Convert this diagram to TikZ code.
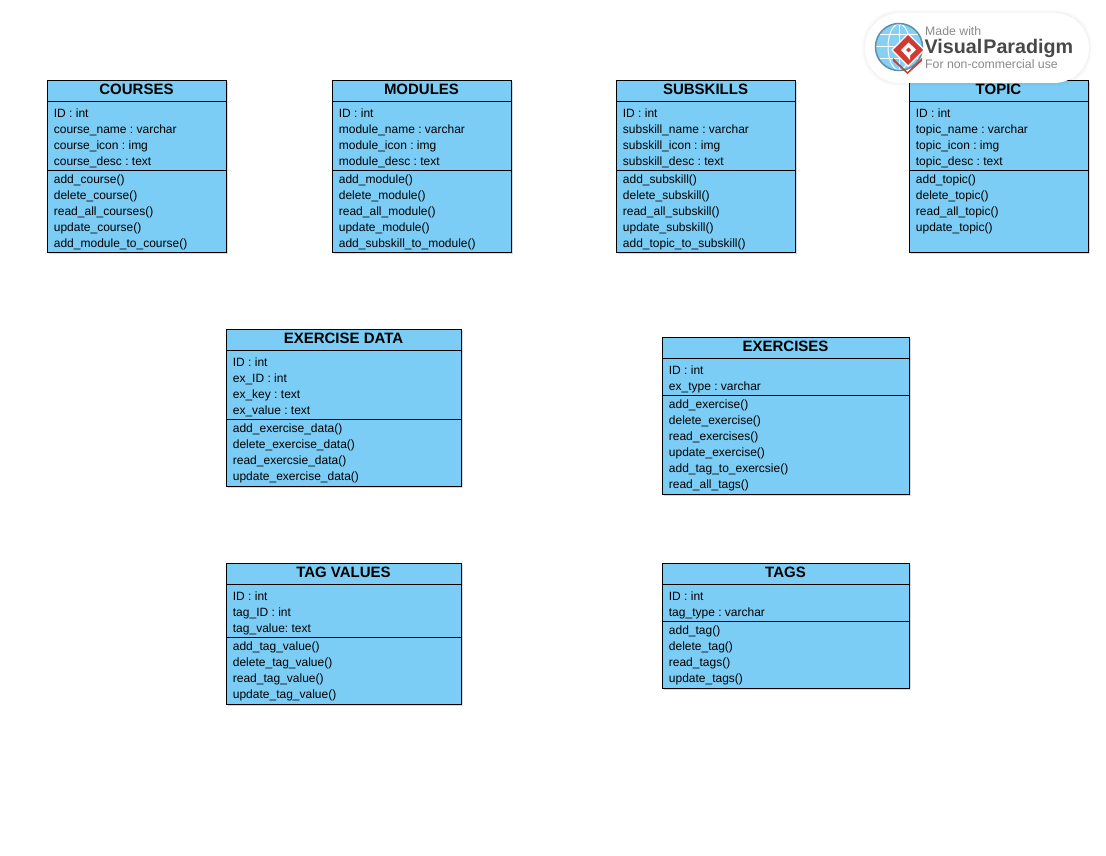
\documentclass[tikz,border=0pt]{standalone}
\usepackage{fontspec}
\setmainfont{Liberation Sans}
\usetikzlibrary{fit,shadows,calc}
\definecolor{umlfill}{HTML}{7BCDF6}
\definecolor{vpgray}{HTML}{8A8A8A}
\definecolor{vpdark}{HTML}{484848}
\definecolor{vpred}{HTML}{CF3A32}
\definecolor{vpblue}{HTML}{86D0F4}
\definecolor{vpring}{HTML}{5F8FA8}
\tikzset{
  classbox/.style={draw=black,line width=1pt,fill=umlfill,inner sep=0pt,outer sep=0pt,
    drop shadow={shadow xshift=1.5pt,shadow yshift=-1.5pt,opacity=.3,fill=gray}},
  classtitle/.style={font=\fontsize{15}{16}\selectfont\bfseries,inner sep=0pt,text=black},
  classtext/.style={font=\fontsize{12}{16}\selectfont\frenchspacing,align=left,anchor=north west,inner sep=0pt,text=black},
  classsep/.style={draw=black,line width=1pt},
  vpsmall/.style={font=\fontsize{12.3}{14}\selectfont,text=vpgray,inner sep=0pt,anchor=base west},
  vpbig/.style={font=\fontsize{19.7}{20}\selectfont\bfseries,text=vpdark,inner sep=0pt,anchor=base west},
}
\def\umlclass#1#2#3#4#5{%
  \def\umlattrs{#4}\def\umlops{#5}%
  \umlclassi{#1}{#3}#2\relax}
\def\umlclassi#1#2#3,#4,#5,#6,#7,#8\relax{%
  \coordinate (#1-a) at (#3,#4);
  \coordinate (#1-b) at (#5,#6);
  \node[classbox,fit=(#1-a)(#1-b)] (#1) {};
  \coordinate (#1-c) at (#3,#7);
  \coordinate (#1-d) at (#3,#8);
  \node[classtitle] (#1-title) at ($(#1.north)+(-0.5,8.6)$) {#2};
  \draw[classsep] (#1.west |- #1-c) -- (#1.east |- #1-c);
  \draw[classsep] (#1.west |- #1-d) -- (#1.east |- #1-d);
  \node[classtext] (#1-attrs) at ($(#1-c)+(6.2,4.5)$) {\umlattrs};
  \node[classtext] (#1-ops) at ($(#1-d)+(6.2,1.6)$) {\umlops};
}
\begin{document}
\begin{tikzpicture}[x=1pt,y=-1pt]
\useasboundingbox (0,0) rectangle (1106,856);

\umlclass{courses}{47.5,80.5,226.5,252.5,101.5,170.5}{COURSES}
 {\strut ID : int\\\strut course\_name : varchar\\\strut course\_icon : img\\\strut course\_desc : text}
 {\strut add\_course()\\\strut delete\_course()\\\strut read\_all\_courses()\\\strut update\_course()\\\strut add\_module\_to\_course()}
\umlclass{modules}{332.5,80.5,511.5,252.5,101.5,170.5}{MODULES}
 {\strut ID : int\\\strut module\_name : varchar\\\strut module\_icon : img\\\strut module\_desc : text}
 {\strut add\_module()\\\strut delete\_module()\\\strut read\_all\_module()\\\strut update\_module()\\\strut add\_subskill\_to\_module()}
\umlclass{subskills}{616.5,80.5,795.5,252.5,101.5,170.5}{SUBSKILLS}
 {\strut ID : int\\\strut subskill\_name : varchar\\\strut subskill\_icon : img\\\strut subskill\_desc : text}
 {\strut add\_subskill()\\\strut delete\_subskill()\\\strut read\_all\_subskill()\\\strut update\_subskill()\\\strut add\_topic\_to\_subskill()}
\umlclass{topic}{909.5,80.5,1088.5,252.5,101.5,170.5}{TOPIC}
 {\strut ID : int\\\strut topic\_name : varchar\\\strut topic\_icon : img\\\strut topic\_desc : text}
 {\strut add\_topic()\\\strut delete\_topic()\\\strut read\_all\_topic()\\\strut update\_topic()}
\umlclass{exdata}{226.5,329.5,461.5,486.5,350.5,419.5}{EXERCISE DATA}
 {\strut ID : int\\\strut ex\_ID : int\\\strut ex\_key : text\\\strut ex\_value : text}
 {\strut add\_exercise\_data()\\\strut delete\_exercise\_data()\\\strut read\_exercsie\_data()\\\strut update\_exercise\_data()}
\umlclass{exercises}{662.5,337.5,909.5,494.5,358.5,395.5}{EXERCISES}
 {\strut ID : int\\\strut ex\_type : varchar}
 {\strut add\_exercise()\\\strut delete\_exercise()\\\strut read\_exercises()\\\strut update\_exercise()\\\strut add\_tag\_to\_exercsie()\\\strut read\_all\_tags()}
\umlclass{tagvalues}{226.5,563.5,461.5,704.5,584.5,637.5}{TAG VALUES}
 {\strut ID : int\\\strut tag\_ID : int\\\strut tag\_value: text}
 {\strut add\_tag\_value()\\\strut delete\_tag\_value()\\\strut read\_tag\_value()\\\strut update\_tag\_value()}
\umlclass{tags}{662.5,563.5,909.5,688.5,584.5,621.5}{TAGS}
 {\strut ID : int\\\strut tag\_type : varchar}
 {\strut add\_tag()\\\strut delete\_tag()\\\strut read\_tags()\\\strut update\_tags()}

% Visual Paradigm badge
\foreach \g/\o in {3/.012,2/.015,1/.02}{
  \fill[black,opacity=\o,rounded corners=35] (865-\g,13-\g) rectangle (1089+\g,83+\g);
}
\fill[white,rounded corners=35] (865,13) rectangle (1089,83);
\fill[vpblue] (899,47) circle[radius=23];
\draw[white,line width=1pt] (876,47) -- (922,47) (899,24) -- (899,70)
  (880,35) -- (918,35) (880,59) -- (918,59);
\draw[white,line width=1pt] (899,47) ellipse[x radius=11,y radius=23];
\draw[vpring,line width=1.5pt] (899,47) circle[radius=23.5];
% chevron below the diamond
\fill[vpred] (893,58) -- (907.5,72) -- (922,58) -- (922,61) -- (907.5,74) -- (893,61) -- cycle;
% diamond
\fill[white] (891,50) -- (908,33) -- (925,50) -- (908,67) -- cycle;
\fill[vpred] (893,50) -- (908,35) -- (923,50) -- (908,65) -- cycle;
\fill[white] (901,50) -- (908.5,42.5) -- (916,49.5) -- (910,55.5) -- (910,60) -- (906.5,56) -- cycle;
\fill[vpred] (906,50) -- (908.5,47.5) -- (911,50) -- (908.5,52.5) -- cycle;
\node[vpsmall] (vp1) at (925,35.5) {Made with};
\node[vpbig] (vp2) at (924.5,54) {Visual\hspace{1pt}Paradigm};
\node[vpsmall] (vp3) at (925,68.5) {For non-commercial use};
\end{tikzpicture}
\end{document}
